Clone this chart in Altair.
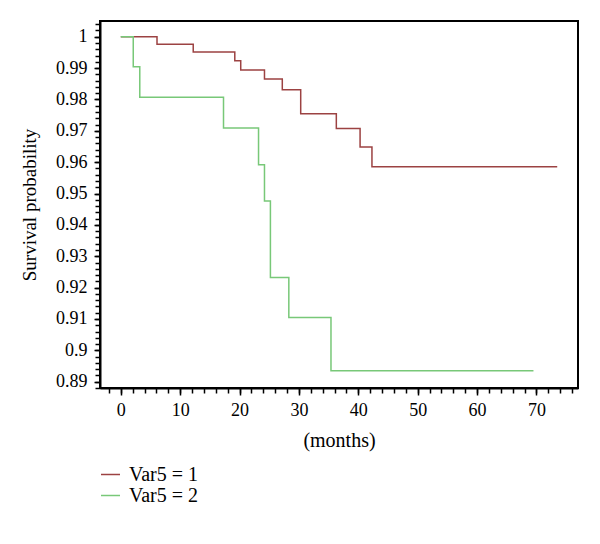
import altair as alt
import pandas as pd

# Var5 = 1 (Kaplan-Meier steps)
g1_time = [0, 6.1, 12.2, 19.2, 20.2, 24.2, 27.2, 30.3, 36.3, 40.3, 42.3, 73.5]
g1_surv = [1.0, 0.9976, 0.9951, 0.9923, 0.9894, 0.9865, 0.9831, 0.9754, 0.9707, 0.9648, 0.9585, 0.9585]
# Var5 = 2
g2_time = [0, 2.1, 3.2, 17.3, 23.2, 24.2, 25.2, 28.3, 35.4, 69.5]
g2_surv = [1.0, 0.9904, 0.9807, 0.9709, 0.9592, 0.9476, 0.9232, 0.9105, 0.8935, 0.8935]

groups = ["Var5 = 1", "Var5 = 2"]
colors = ["#9C4242", "#78C878"]

x_major = [0, 10, 20, 30, 40, 50, 60, 70]
x_minor = list(range(-2, 77, 2))
y_major = [0.89, 0.90, 0.91, 0.92, 0.93, 0.94, 0.95, 0.96, 0.97, 0.98, 0.99, 1.0]
y_minor = [round(0.888 + 0.002 * i, 3) for i in range(59)]

rows = []
for t, s in zip(g1_time, g1_surv):
    rows.append({"time": t, "surv": s, "group": groups[0]})
for t, s in zip(g2_time, g2_surv):
    rows.append({"time": t, "surv": s, "group": groups[1]})
df = pd.DataFrame(rows)

FONT = "Liberation Serif"
xscale = alt.Scale(domain=[-3.5, 77], nice=False, zero=False)
yscale = alt.Scale(domain=[0.888, 1.005], nice=False, zero=False)

minor = alt.Chart(df).mark_line(interpolate="step-after", strokeOpacity=0).encode(
    x=alt.X("time:Q", scale=xscale,
            axis=alt.Axis(values=x_minor, orient="bottom", labels=False, tickSize=5,
                          title="", domain=True, domainColor="black", domainWidth=2,
                          grid=False, tickColor="black", tickWidth=1.5)),
    y=alt.Y("surv:Q", scale=yscale,
            axis=alt.Axis(values=y_minor, orient="left", labels=False, tickSize=5,
                          title="", domain=True, domainColor="black", domainWidth=2,
                          grid=False, tickColor="black", tickWidth=1.5)),
    detail="group:N",
)

lines = alt.Chart(df).mark_line(interpolate="step-after", strokeWidth=1.5).encode(
    x=alt.X("time:Q", scale=xscale,
            axis=alt.Axis(values=x_major, orient="bottom", tickSize=7, labelFontSize=18,
                          labelPadding=6, title="(months)", titleFontSize=20,
                          titleFontWeight="normal", titlePadding=11, domain=False, grid=False,
                          tickColor="black", tickWidth=1.5, labelColor="black",
                          titleColor="black", labelFont=FONT, titleFont=FONT)),
    y=alt.Y("surv:Q", scale=yscale,
            axis=alt.Axis(values=y_major, orient="left", tickSize=6, labelFontSize=18,
                          labelPadding=7, format=".2~f", title="Survival probability",
                          titleFontSize=19, titleFontWeight="normal", titlePadding=16,
                          domain=False, grid=False, tickColor="black", tickWidth=1.5,
                          labelColor="black", titleColor="black", labelFont=FONT,
                          titleFont=FONT)),
    color=alt.Color("group:N", scale=alt.Scale(domain=groups, range=colors),
                    legend=alt.Legend(orient="none", legendX=0, legendY=443, title=None,
                                      direction="vertical", symbolType="stroke",
                                      symbolSize=361, symbolStrokeWidth=1.5,
                                      labelFontSize=20, labelFont=FONT, labelColor="black",
                                      rowPadding=0, labelOffset=8, padding=0)),
)

chart = alt.layer(minor, lines).resolve_axis(x="independent", y="independent").properties(
    width=478, height=367,
    background="white",
    autosize=alt.AutoSizeParams(type="none"),
    padding={"left": 92, "top": 13, "right": 14, "bottom": 148},
).configure_view(stroke="black", strokeWidth=2)

chart.save("out.html", embed_options={"renderer": "svg", "actions": False})
